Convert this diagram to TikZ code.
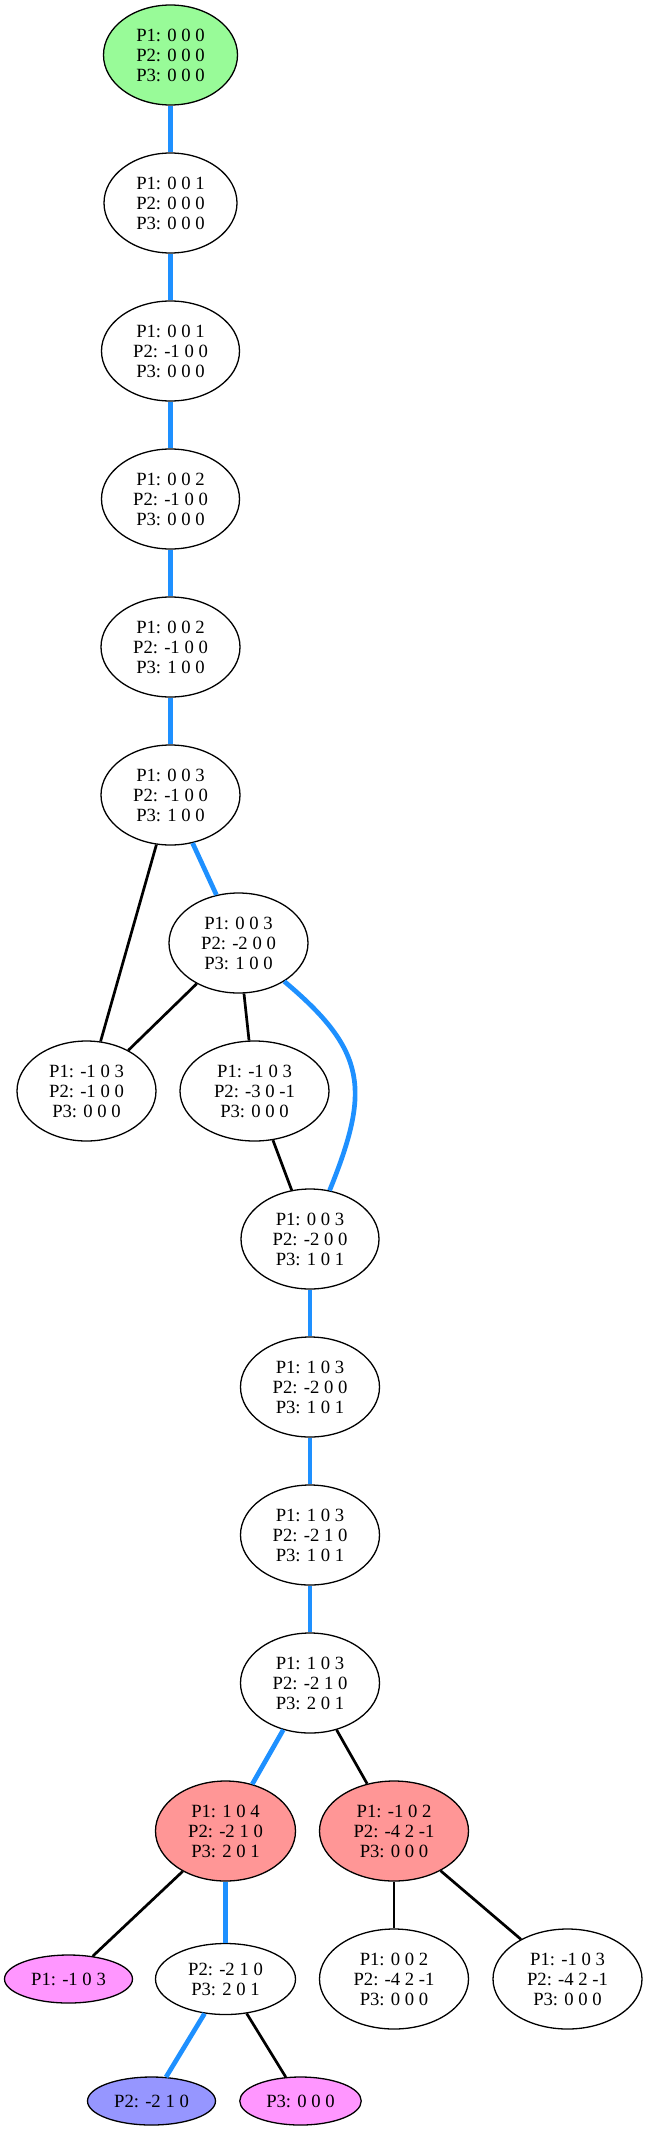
\documentclass[tikz,border=0pt]{standalone}
\usepackage{fontspec}
\setmainfont{Liberation Serif}
\usetikzlibrary{shapes.geometric}
\definecolor{startgreen}{RGB}{152,251,152}
\definecolor{badred}{RGB}{255,150,150}
\definecolor{leafpink}{RGB}{255,150,255}
\definecolor{leafblue}{RGB}{150,150,255}
\definecolor{pathblue}{RGB}{30,144,255}
\begin{document}
\begin{tikzpicture}[x=1pt, y=-1pt, node distance=148pt,
    statenode/.style={ellipse, draw=black, line width=1.3pt, fill=white, inner sep=0pt,
      minimum width=139pt, minimum height=100pt, align=center,
      font=\fontsize{18.67}{20}\selectfont},
    leafnode/.style={statenode, minimum width=128pt, minimum height=48pt},
    pathedge/.style={draw=pathblue, line width=4.7pt},
    sideedge/.style={draw=black, line width=2.7pt}]
    \useasboundingbox (0,0) rectangle (648,2130);
    % Place nodes
    \node[statenode, fill=startgreen, minimum width=134pt] (s0) at (170.5,55) {P1: 0 0 0\\P2: 0 0 0\\P3: 0 0 0};
    \node[statenode, minimum width=133pt] (s1) [below of = s0] {P1: 0 0 1\\P2: 0 0 0\\P3: 0 0 0};
    \node[statenode, minimum width=138pt] (s2) [below of = s1] {P1: 0 0 1\\P2: -1 0 0\\P3: 0 0 0};
    \node[statenode, minimum width=138pt] (s3) [below of = s2] {P1: 0 0 2\\P2: -1 0 0\\P3: 0 0 0};
    \node[statenode] (s4)  [below of = s3] {P1: 0 0 2\\P2: -1 0 0\\P3: 1 0 0};
    \node[statenode] (s5)  [below of = s4] {P1: 0 0 3\\P2: -1 0 0\\P3: 1 0 0};
    \node[statenode] (s6)  [below of = s5, xshift=68pt] {P1: 0 0 3\\P2: -2 0 0\\P3: 1 0 0};
    \node[statenode] (s7)  [below of = s6, xshift=-152pt] {P1: -1 0 3\\P2: -1 0 0\\P3: 0 0 0};
    \node[statenode, minimum width=149pt] (s8) [below of = s6, xshift=16pt] {P1: -1 0 3\\P2: -3 0 -1\\P3: 0 0 0};
    \node[statenode, minimum width=138pt] (s9) [below of = s8, xshift=55.5pt] {P1: 0 0 3\\P2: -2 0 0\\P3: 1 0 1};
    \node[statenode] (s10) [below of = s9] {P1: 1 0 3\\P2: -2 0 0\\P3: 1 0 1};
    \node[statenode] (s11) [below of = s10] {P1: 1 0 3\\P2: -2 1 0\\P3: 1 0 1};
    \node[statenode] (s12) [below of = s11] {P1: 1 0 3\\P2: -2 1 0\\P3: 2 0 1};
    \node[statenode, fill=badred, minimum width=140pt] (s13) [below of = s12, xshift=-84.5pt] {P1: 1 0 4\\P2: -2 1 0\\P3: 2 0 1};
    \node[statenode, fill=badred, minimum width=149pt] (s14) [below of = s12, xshift=84pt] {P1: -1 0 2\\P2: -4 2 -1\\P3: 0 0 0};
    \node[leafnode, fill=leafpink] (s15) [below of = s13, xshift=-157pt] {P1: -1 0 3};
    \node[statenode, minimum width=140pt, minimum height=71pt] (s16) [below of = s13] {P2: -2 1 0\\P3: 2 0 1};
    \node[statenode, minimum width=149pt] (s17) [below of = s14] {P1: 0 0 2\\P2: -4 2 -1\\P3: 0 0 0};
    \node[statenode, minimum width=149pt] (s18) [below of = s14, xshift=173.5pt] {P1: -1 0 3\\P2: -4 2 -1\\P3: 0 0 0};
    \node[leafnode, fill=leafblue] (s19) [below of = s16, node distance=122pt, xshift=-74pt] {P2: -2 1 0};
    \node[leafnode, fill=leafpink, minimum width=121.5pt] (s20) [below of = s16, node distance=122pt, xshift=75pt] {P3: 0 0 0};
    % Create edges
    % Main path
      \draw[pathedge] (s0)  -- (s1);
      \draw[pathedge] (s1)  -- (s2);
      \draw[pathedge] (s2)  -- (s3);
      \draw[pathedge] (s3)  -- (s4);
      \draw[pathedge] (s4)  -- (s5);
      \draw[pathedge] (s5)  -- (s6);
      \draw[pathedge] (s6)  to [out = -40, in = 68, looseness = 1.3] (s9);
      \draw[pathedge] (s9)  -- (s10);
      \draw[pathedge] (s10) -- (s11);
      \draw[pathedge] (s11) -- (s12);
      \draw[pathedge] (s12) -- (s13);
      \draw[pathedge] (s13) -- (s16);
      \draw[pathedge] (s16) -- (s19);
    % Side branches
      \draw[sideedge] (s5)  -- (s7);
      \draw[sideedge] (s6)  -- (s7);
      \draw[sideedge] (s6)  -- (s8);
      \draw[sideedge] (s8)  -- (s9);
      \draw[sideedge] (s12) -- (s14);
      \draw[sideedge] (s13) -- (s15);
      \draw[sideedge] (s14) -- (s17);
      \draw[sideedge] (s14) -- (s18);
      \draw[sideedge] (s16) -- (s20);
  \end{tikzpicture}
\end{document}
